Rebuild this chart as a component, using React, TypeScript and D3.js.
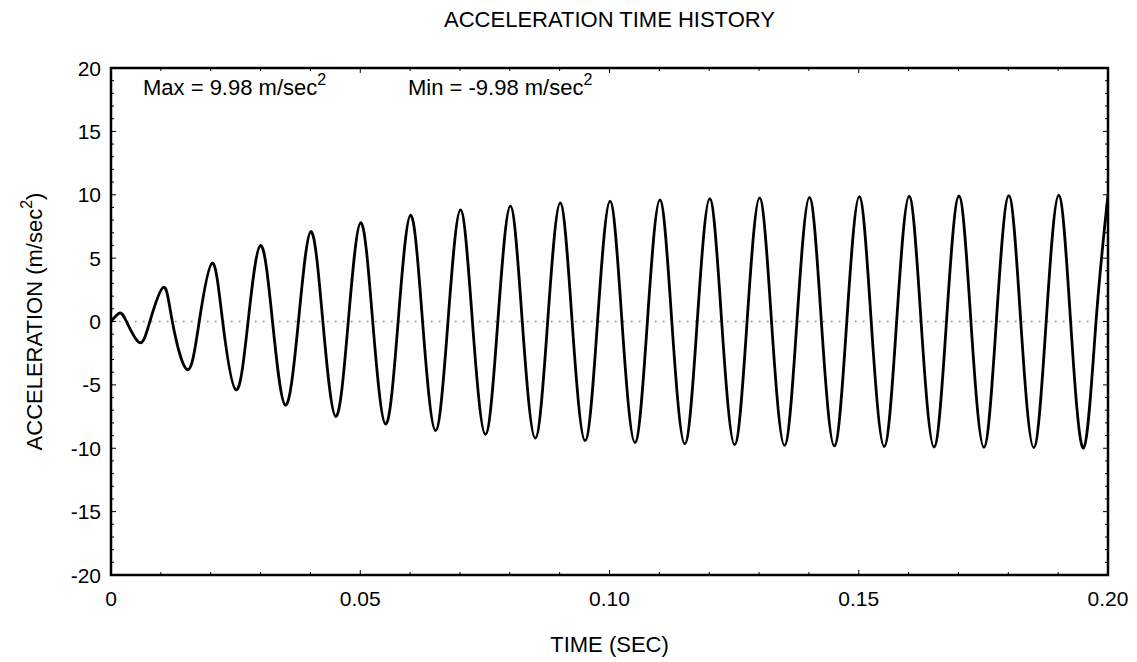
import React from 'react';
import * as d3 from 'd3';

// time (s) and acceleration (m/sec^2): peaks, troughs and zero crossings
const TIME = [
  0, 0.0017, 0.0031, 0.0057, 0.0078, 0.0105, 0.0123, 0.0153, 0.0177, 0.0203,
  0.0224, 0.0251, 0.0275, 0.0300, 0.0324, 0.0350, 0.0376, 0.0401, 0.0425, 0.0451,
  0.0476, 0.0501, 0.0525, 0.0551, 0.0576, 0.0601, 0.0625, 0.0651, 0.0676, 0.0701,
  0.0725, 0.0751, 0.0776, 0.0801, 0.0825, 0.0851, 0.0876, 0.0901, 0.0925, 0.0951,
  0.0976, 0.1001, 0.1025, 0.1051, 0.1076, 0.1101, 0.1125, 0.1151, 0.1176, 0.1201,
  0.1225, 0.1251, 0.1276, 0.1301, 0.1325, 0.1351, 0.1376, 0.1401, 0.1425, 0.1451,
  0.1476, 0.1501, 0.1525, 0.1551, 0.1576, 0.1601, 0.1625, 0.1651, 0.1676, 0.1701,
  0.1725, 0.1751, 0.1776, 0.1801, 0.1825, 0.1851, 0.1876, 0.1901, 0.1925, 0.1951,
  0.1976, 0.2
];
const ACCEL = [
  0, 0.66, 0, -1.66, 0, 2.7, 0, -3.8, 0, 4.6,
  0, -5.4, 0, 6.0, 0, -6.6, 0, 7.1, 0, -7.5,
  0, 7.8, 0, -8.1, 0, 8.4, 0, -8.6, 0, 8.8,
  0, -8.9, 0, 9.1, 0, -9.2, 0, 9.35, 0, -9.4,
  0, 9.5, 0, -9.55, 0, 9.6, 0, -9.65, 0, 9.7,
  0, -9.72, 0, 9.75, 0, -9.78, 0, 9.8, 0, -9.82,
  0, 9.85, 0, -9.86, 0, 9.88, 0, -9.9, 0, 9.9,
  0, -9.92, 0, 9.93, 0, -9.95, 0, 9.96, 0, -9.98,
  0, 9.98
];

const X_TICKS = [0, 0.05, 0.1, 0.15, 0.2];
const X_TICK_LABELS = ['0', '0.05', '0.10', '0.15', '0.20'];
const Y_TICKS = [-20, -15, -10, -5, 0, 5, 10, 15, 20];
const MAX_VAL = 9.98;
const MIN_VAL = -9.98;

const W = 1137;
const H = 662;
const FONT = '"Liberation Sans", Arial, sans-serif';

export default function App() {
  const left = 111, right = 1108, top = 68, bottom = 575;

  const x = d3.scaleLinear().domain([0, 0.2]).range([left, right]);
  const y = d3.scaleLinear().domain([-20, 20]).range([bottom, top]);

  const pts: [number, number][] = TIME.map((t, i) => [t, ACCEL[i]]);
  const line = d3.line<[number, number]>()
    .x(d => x(d[0]))
    .y(d => y(d[1]))
    .curve(d3.curveNatural);

  const xMinor = x.ticks(20);
  const yMinor = y.ticks(40);
  const isMajorX = (v: number) => X_TICKS.some(t => Math.abs(t - v) < 1e-9);
  const isMajorY = (v: number) => Y_TICKS.includes(v);

  return (
    <svg width={W} height={H} style={{ position: 'absolute', left: 0, top: 0, background: '#fff' }}
      fontFamily={FONT}>
      <rect width={W} height={H} fill="#fff" />

      {/* zero reference */}
      <line x1={left} x2={right} y1={y(0)} y2={y(0)} stroke="#888" strokeWidth={1.5}
        strokeDasharray="1.5,6.5" />

      {/* ticks, inward on all four sides */}
      {xMinor.map((v, i) => {
        const len = isMajorX(v) ? 5 : 3;
        return (
          <g key={'xt' + i} stroke="#000" strokeWidth={1}>
            <line x1={x(v)} x2={x(v)} y1={bottom} y2={bottom - len} />
            <line x1={x(v)} x2={x(v)} y1={top} y2={top + len} />
          </g>
        );
      })}
      {yMinor.map((v, i) => {
        const len = isMajorY(v) ? 5 : 3;
        return (
          <g key={'yt' + i} stroke="#000" strokeWidth={1}>
            <line x1={left} x2={left + len} y1={y(v)} y2={y(v)} />
            <line x1={right} x2={right - len} y1={y(v)} y2={y(v)} />
          </g>
        );
      })}

      <defs>
        <clipPath id="plotClip">
          <rect x={left} y={top} width={right - left} height={bottom - top} />
        </clipPath>
      </defs>
      <path d={line(pts) || ''} fill="none" stroke="#000" strokeWidth={2.8}
        strokeLinejoin="round" clipPath="url(#plotClip)" />

      <rect x={left} y={top} width={right - left} height={bottom - top} fill="none"
        stroke="#000" strokeWidth={2.5} />

      {/* tick labels */}
      {X_TICKS.map((v, i) => (
        <text key={'xl' + i} x={x(v)} y={606} textAnchor="middle" fontSize={21}>
          {X_TICK_LABELS[i]}
        </text>
      ))}
      {Y_TICKS.map(v => (
        <text key={'yl' + v} x={101} y={y(v)} dy="0.36em" textAnchor="end" fontSize={21}>
          {v}
        </text>
      ))}

      {/* titles */}
      <text x={(left + right) / 2} y={27} textAnchor="middle" fontSize={22}>
        ACCELERATION TIME HISTORY
      </text>
      <text x={(left + right) / 2} y={652} textAnchor="middle" fontSize={22}>
        TIME (SEC)
      </text>
      <text transform={`translate(42, ${(top + bottom) / 2}) rotate(-90)`} textAnchor="middle"
        fontSize={22}>
        ACCELERATION (m/sec<tspan dy={-10} fontSize={16}>2</tspan><tspan dy={10}>)</tspan>
      </text>

      {/* max / min annotation */}
      <text x={143} y={95} fontSize={22}>
        {`Max = ${MAX_VAL.toFixed(2)} m/sec`}<tspan dy={-10} fontSize={16}>2</tspan>
      </text>
      <text x={408} y={95} fontSize={22}>
        {`Min = ${MIN_VAL.toFixed(2)} m/sec`}<tspan dy={-10} fontSize={16}>2</tspan>
      </text>
    </svg>
  );
}
